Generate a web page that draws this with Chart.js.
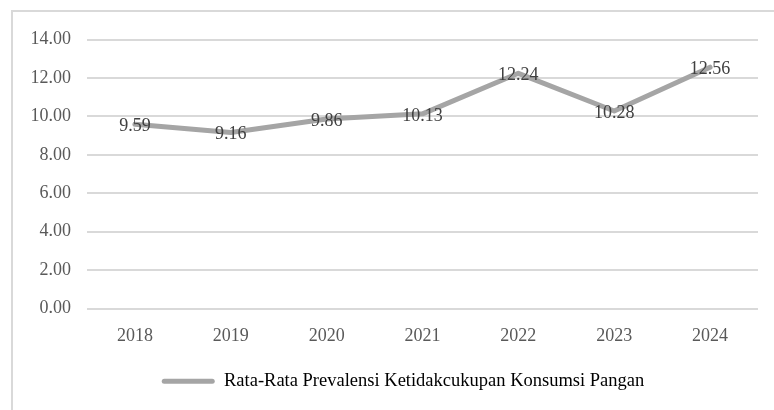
<!DOCTYPE html>
<html>
<head>
<meta charset="utf-8">
<script src="https://cdn.jsdelivr.net/npm/chart.js@4.4.1/dist/chart.umd.min.js"></script>
<style>
    html, body { margin: 0; padding: 0; background: #fff; overflow: hidden; }
    #wrap { position: relative; width: 774px; height: 410px; }
    #frame {
        position: absolute; left: 11px; top: 10px; width: 800px; height: 500px;
        border: 2px solid #d9d9d9; box-sizing: border-box;
    }
    #chart { position: absolute; left: 0; top: 0; }
</style>
</head>
<body>
<div id="wrap">
    <div id="frame"></div>
    <canvas id="chart" width="774" height="410"></canvas>
</div>
<script>
// 数据
const years = ['2018', '2019', '2020', '2021', '2022', '2023', '2024'];
const prevalensi = [9.59, 9.16, 9.86, 10.13, 12.24, 10.28, 12.56];
const seriesName = 'Rata-Rata Prevalensi Ketidakcukupan Konsumsi Pangan';
const yTicks = [0, 2, 4, 6, 8, 10, 12, 14];

const FONT = '"Liberation Serif", "Times New Roman", serif';

// 数据标签
const valueLabels = {
    id: 'valueLabels',
    afterDatasetsDraw(chart) {
        const ctx = chart.ctx;
        const meta = chart.getDatasetMeta(0);
        ctx.save();
        ctx.font = '18px ' + FONT;
        ctx.fillStyle = '#404040';
        ctx.textAlign = 'center';
        ctx.textBaseline = 'middle';
        meta.data.forEach((pt, i) => {
            ctx.fillText(prevalensi[i].toFixed(2), pt.x, pt.y + 2);
        });
        ctx.restore();
    }
};

// 图例右移，与外框居中
const legendShift = {
    id: 'legendShift',
    afterLayout(chart) {
        chart.legend.left += 24;
        chart.legend.right += 24;
    }
};

const ctx = document.getElementById('chart').getContext('2d');
new Chart(ctx, {
    type: 'line',
    data: {
        labels: years,
        datasets: [{
            label: seriesName,
            data: prevalensi,
            borderColor: '#a5a5a5',
            backgroundColor: '#a5a5a5',
            borderWidth: 5,
            borderCapStyle: 'round',
            borderJoinStyle: 'round',
            pointRadius: 0,
            tension: 0,
            fill: false
        }]
    },
    options: {
        responsive: false,
        animation: false,
        layout: { padding: { left: 0, right: 16, top: 39.5, bottom: 9.5 } },
        plugins: {
            tooltip: { enabled: false },
            legend: {
                position: 'bottom',
                labels: {
                    color: '#595959',
                    font: { family: FONT, size: 18.5 },
                    boxWidth: 53,
                    boxHeight: 5,
                    padding: 10,
                    useBorderRadius: true,
                    borderRadius: 2.5,
                    generateLabels: () => [{
                        text: seriesName,
                        fillStyle: '#a5a5a5',
                        strokeStyle: '#a5a5a5',
                        lineWidth: 0,
                        borderRadius: 2.5,
                        datasetIndex: 0
                    }]
                }
            }
        },
        scales: {
            x: {
                offset: true,
                grid: { display: false, drawTicks: false, offset: true },
                border: { display: false },
                ticks: { color: '#595959', font: { family: FONT, size: 18 }, padding: 17 },
                afterFit: (scale) => { scale.height = 53.5; }
            },
            y: {
                min: 0,
                max: 14,
                afterBuildTicks: (scale) => { scale.ticks = yTicks.map(v => ({ value: v })); },
                grid: { color: '#d9d9d9', lineWidth: 2, drawTicks: false },
                border: { display: false },
                ticks: {
                    color: '#595959',
                    font: { family: FONT, size: 18 },
                    padding: 16,
                    callback: (v) => Number(v).toFixed(2)
                },
                afterFit: (scale) => { scale.width = 87; }
            }
        }
    },
    plugins: [valueLabels, legendShift]
});
</script>
</body>
</html>
